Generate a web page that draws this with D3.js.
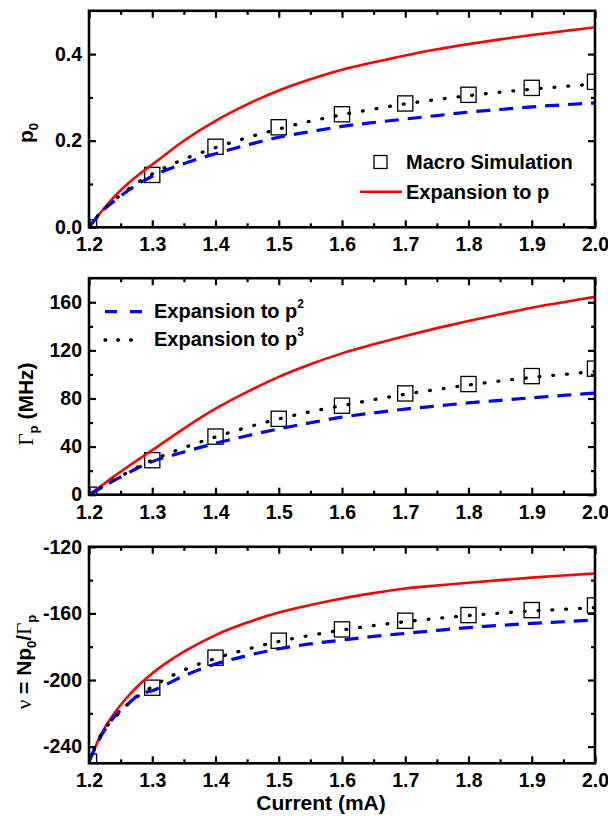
<!DOCTYPE html>
<html>
<head>
<meta charset="utf-8">
<script src="https://cdn.jsdelivr.net/npm/d3@7/dist/d3.min.js"></script>
<style>
  html, body { margin: 0; padding: 0; background: #fff; }
  svg { display: block; }
  text { font-family: "Liberation Sans", Arial, sans-serif; font-weight: bold; fill: #000; }
</style>
</head>
<body>
<svg id="chart" width="608" height="816"></svg>
<script>
// Bias current (mA) of the macrospin simulation points
const simCurrent = [1.2, 1.3, 1.4, 1.5, 1.6, 1.7, 1.8, 1.9, 2.0];
const simP0    = [0, 0.121, 0.186, 0.231, 0.261, 0.286, 0.306, 0.322, 0.336];
const simGamma = [0, 28.7, 48.3, 63.1, 74.0, 84.2, 92.0, 98.6, 104.8];
const simNu    = [-249, -204.6, -186.6, -176.4, -169.6, -164.4, -161.0, -158.0, -155.2];

// Current grid of the analytic expansions
const expCurrent = [1.2, 1.22, 1.24, 1.26, 1.28, 1.3, 1.35, 1.4, 1.45, 1.5, 1.55, 1.6, 1.65, 1.7, 1.75, 1.8, 1.85, 1.9, 1.95, 2.0];

// Power p0
const p0Order1 = [0, 0.037, 0.071, 0.099, 0.123, 0.145, 0.200, 0.246, 0.284, 0.316, 0.342, 0.364, 0.381, 0.397, 0.411, 0.423, 0.434, 0.444, 0.453, 0.462];
const p0Order2 = [0, 0.036, 0.061, 0.083, 0.102, 0.118, 0.147, 0.170, 0.190, 0.208, 0.221, 0.233, 0.242, 0.250, 0.258, 0.266, 0.272, 0.278, 0.283, 0.287];
const p0Order3 = [0, 0.037, 0.063, 0.086, 0.106, 0.123, 0.157, 0.184, 0.207, 0.227, 0.245, 0.260, 0.273, 0.285, 0.295, 0.304, 0.312, 0.319, 0.325, 0.331];

// Damping rate Gamma_p (MHz)
const gammaOrder1 = [0, 7.6, 15.4, 22.8, 30.0, 37.0, 55.0, 71.5, 85.5, 98.0, 108.5, 117.5, 125.0, 132.0, 138.5, 144.5, 150.0, 155.5, 160.0, 164.5];
const gammaOrder2 = [0, 6.0, 12.0, 17.5, 23.0, 27.5, 35.5, 42.8, 49.0, 54.7, 59.8, 64.5, 68.0, 71.2, 73.8, 76.3, 78.5, 80.6, 82.6, 84.5];
const gammaOrder3 = [0, 6.2, 12.4, 18.2, 23.8, 28.7, 39.0, 48.0, 56.0, 63.0, 69.0, 74.0, 79.0, 83.5, 87.5, 91.2, 94.5, 97.5, 100.0, 102.5];

// Nonlinear parameter nu = N p0 / Gamma_p
const nuOrder1 = [-249, -232, -220, -210.5, -202.5, -196, -183, -173, -165.5, -159.5, -155, -151, -147.8, -145, -143.2, -141.6, -140, -138.5, -137.2, -136];
const nuOrder2 = [-249, -233, -222, -215, -208.6, -206.4, -197.5, -190.4, -185.3, -181.2, -178.3, -176, -173.8, -172, -170.2, -168.5, -167.2, -166, -165, -164];
const nuOrder3 = [-249, -232, -223, -215, -209, -204, -194, -187, -181.5, -176.8, -173.2, -170, -167.3, -165, -163, -161.3, -159.8, -158.5, -157.5, -156.5];

// Axis ticks
const xMajor = [1.2, 1.3, 1.4, 1.5, 1.6, 1.7, 1.8, 1.9, 2.0];
const xMinor = [1.25, 1.35, 1.45, 1.55, 1.65, 1.75, 1.85, 1.95];
const p0Major = [0, 0.2, 0.4];
const p0Minor = [0.1, 0.3];
const gammaMajor = [0, 40, 80, 120, 160];
const gammaMinor = [20, 60, 100, 140];
const nuMajor = [-240, -200, -160, -120];
const nuMinor = [-220, -180, -140];

const svg = d3.select("#chart");
const left = 89, right = 595, panelH = 216.5;
const x = d3.scaleLinear().domain([1.2, 2.0]).range([left, right]);

const styles = {
  order1: { stroke: "#ff0000", width: 2.6, dash: null, cap: "butt" },
  order2: { stroke: "#0000ff", width: 3.2, dash: "14,9", cap: "butt" },
  order3: { stroke: "#000000", width: 3.3, dash: "0.8,13", cap: "round" }
};

// plain hyphen for negative numbers
const fixed = n => d => d.toFixed(n);

function drawPanel(cfg, idx) {
  const top = cfg.top, bottom = top + panelH;
  const y = d3.scaleLinear().domain(cfg.domain).range([bottom, top]);
  const g = svg.append("g");

  const clipId = "clip" + idx;
  svg.append("clipPath").attr("id", clipId)
    .append("rect").attr("x", left).attr("y", top).attr("width", right - left).attr("height", panelH);

  const plot = g.append("g").attr("clip-path", `url(#${clipId})`);

  // simulation markers
  plot.selectAll("rect.sim").data(simCurrent.map((c, i) => [c, cfg.sim[i]]))
    .join("rect").attr("class", "sim")
    .attr("x", d => x(d[0]) - 7.6).attr("y", d => y(d[1]) - 7.6)
    .attr("width", 15.2).attr("height", 15.2)
    .attr("fill", "none").attr("stroke", "#000").attr("stroke-width", 1.3);

  const line = d3.line().x(d => x(d[0])).y(d => y(d[1])).curve(d3.curveMonotoneX);
  [["order1", cfg.o1], ["order2", cfg.o2], ["order3", cfg.o3]].forEach(([k, vals]) => {
    const s = styles[k];
    plot.append("path")
      .datum(expCurrent.map((c, i) => [c, vals[i]]))
      .attr("d", line).attr("fill", "none")
      .attr("stroke", s.stroke).attr("stroke-width", s.width)
      .attr("stroke-dasharray", s.dash).attr("stroke-linecap", s.cap);
  });

  // axes: ticks point inward on all four sides
  const axStyle = sel => {
    sel.select(".domain").remove();
    sel.selectAll(".tick line").attr("stroke", "#000").attr("stroke-width", 2.2);
    sel.selectAll(".tick text").style("font-size", "19.5px").style("font-family", '"Liberation Sans", Arial, sans-serif').style("font-weight", "bold");
  };
  g.append("g").attr("transform", `translate(${left},0)`)
    .call(d3.axisLeft(y).tickValues(cfg.major).tickSize(-7).tickPadding(7).tickFormat(cfg.fmt)).call(axStyle);
  g.append("g").attr("transform", `translate(${left},0)`)
    .call(d3.axisLeft(y).tickValues(cfg.minor).tickSize(-4).tickFormat("")).call(axStyle);
  g.append("g").attr("transform", `translate(${right},0)`)
    .call(d3.axisRight(y).tickValues(cfg.major).tickSize(-7).tickFormat("")).call(axStyle);
  g.append("g").attr("transform", `translate(${right},0)`)
    .call(d3.axisRight(y).tickValues(cfg.minor).tickSize(-4).tickFormat("")).call(axStyle);
  g.append("g").attr("transform", `translate(0,${bottom})`)
    .call(d3.axisBottom(x).tickValues(xMajor).tickSize(-7).tickPadding(10).tickFormat(fixed(1))).call(axStyle);
  g.append("g").attr("transform", `translate(0,${bottom})`)
    .call(d3.axisBottom(x).tickValues(xMinor).tickSize(-4).tickFormat("")).call(axStyle);
  g.append("g").attr("transform", `translate(0,${top})`)
    .call(d3.axisTop(x).tickValues(xMajor).tickSize(-7).tickFormat("")).call(axStyle);
  g.append("g").attr("transform", `translate(0,${top})`)
    .call(d3.axisTop(x).tickValues(xMinor).tickSize(-4).tickFormat("")).call(axStyle);

  g.append("rect").attr("x", left).attr("y", top).attr("width", right - left).attr("height", panelH)
    .attr("fill", "none").attr("stroke", "#000").attr("stroke-width", 2.6);

  // rotated axis title
  const t = g.append("text")
    .attr("transform", `translate(${cfg.titleX},${cfg.titleY}) rotate(-90)`)
    .attr("text-anchor", "middle").style("font-size", "21px");
  cfg.title(t);
  return { y, g, top, bottom };
}

const sub = (t, s, size = 13, dy = 5) => t.append("tspan").attr("dy", dy).style("font-size", size + "px").text(s);
const greek = (t, s, dy) => t.append("tspan").attr("dy", dy || 0)
  .style("font-family", '"Liberation Serif", "DejaVu Serif", serif').style("font-weight", "normal").text(s);

const p1 = drawPanel({
  top: 10.8, domain: [0, 0.5], sim: simP0, o1: p0Order1, o2: p0Order2, o3: p0Order3,
  major: p0Major, minor: p0Minor, fmt: fixed(1), titleX: 33, titleY: 133,
  title: t => { t.append("tspan").text("p"); sub(t, "0"); }
}, 0);

const p2 = drawPanel({
  top: 278.2, domain: [0, 180], sim: simGamma, o1: gammaOrder1, o2: gammaOrder2, o3: gammaOrder3,
  major: gammaMajor, minor: gammaMinor, fmt: fixed(0), titleX: 33, titleY: 404,
  title: t => { greek(t, "Γ"); sub(t, "p"); t.append("tspan").attr("dy", -5).text(" (MHz)"); }
}, 1);

const p3 = drawPanel({
  top: 546.8, domain: [-250, -120], sim: simNu, o1: nuOrder1, o2: nuOrder2, o3: nuOrder3,
  major: nuMajor, minor: nuMinor, fmt: fixed(0), titleX: 31, titleY: 662,
  title: t => {
    greek(t, "ν"); t.append("tspan").text(" = Np"); sub(t, "0");
    t.append("tspan").attr("dy", -5).text("/"); greek(t, "Γ"); sub(t, "p");
  }
}, 2);

// x axis title
svg.append("text").attr("x", 321).attr("y", 810).attr("text-anchor", "middle")
  .style("font-size", "21px").text("Current (mA)");

// legend entries
function legendLine(g, x0, x1, yy, s) {
  g.append("line").attr("x1", x0).attr("x2", x1).attr("y1", yy).attr("y2", yy)
    .attr("stroke", s.stroke).attr("stroke-width", s.width)
    .attr("stroke-dasharray", s.legendDash || s.dash).attr("stroke-linecap", s.cap);
}
function legendText(g, x0, yy, main, sup) {
  const t = g.append("text").attr("x", x0).attr("y", yy).style("font-size", "20px").text(main);
  if (sup) t.append("tspan").attr("dy", -10).style("font-size", "12px").text(sup);
}

p1.g.append("rect").attr("x", 374).attr("y", 155.5).attr("width", 13).attr("height", 13)
  .attr("fill", "none").attr("stroke", "#000").attr("stroke-width", 1.3);
legendText(p1.g, 406, 168.5, "Macro Simulation");
legendLine(p1.g, 360, 402, 191.7, styles.order1);
legendText(p1.g, 406, 198.5, "Expansion to p");

legendLine(p2.g, 105, 142, 311.7, Object.assign({}, styles.order2, { legendDash: "12,13" }));
legendText(p2.g, 154, 317.5, "Expansion to p", "2");
legendLine(p2.g, 105, 132, 340, Object.assign({}, styles.order3, { legendDash: "0.8,12" }));
legendText(p2.g, 154, 346, "Expansion to p", "3");
</script>
</body>
</html>
